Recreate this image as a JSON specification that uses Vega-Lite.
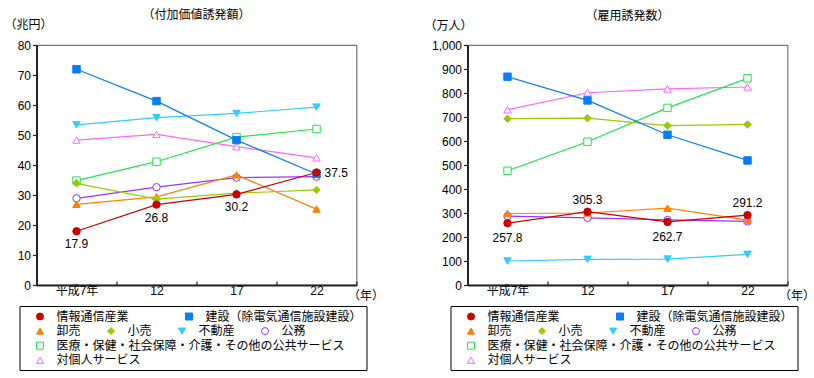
{
  "$schema": "https://vega.github.io/schema/vega-lite/v6.json",
  "padding": {"left": 2.5, "top": 8, "right": 0, "bottom": 0},
  "spacing": 111,
  "bounds": "flush",
  "resolve": {"scale": {"stroke": "independent", "fill": "independent", "shape": "independent"}},
  "datasets": {
    "va": [
      {"series": "建設（除電気通信施設建設）", "year": "平成7年", "value": 71.9},
      {"series": "建設（除電気通信施設建設）", "year": "12", "value": 61.3},
      {"series": "建設（除電気通信施設建設）", "year": "17", "value": 48.3},
      {"series": "建設（除電気通信施設建設）", "year": "22", "value": 37.0},
      {"series": "対個人サービス", "year": "平成7年", "value": 48.3},
      {"series": "対個人サービス", "year": "12", "value": 50.2},
      {"series": "対個人サービス", "year": "17", "value": 46.1},
      {"series": "対個人サービス", "year": "22", "value": 42.4},
      {"series": "不動産", "year": "平成7年", "value": 53.4},
      {"series": "不動産", "year": "12", "value": 55.8},
      {"series": "不動産", "year": "17", "value": 57.2},
      {"series": "不動産", "year": "22", "value": 59.3},
      {"series": "医療・保健・社会保障・介護・その他の公共サービス", "year": "平成7年", "value": 34.8},
      {"series": "医療・保健・社会保障・介護・その他の公共サービス", "year": "12", "value": 41.1},
      {"series": "医療・保健・社会保障・介護・その他の公共サービス", "year": "17", "value": 49.3},
      {"series": "医療・保健・社会保障・介護・その他の公共サービス", "year": "22", "value": 52.0},
      {"series": "公務", "year": "平成7年", "value": 28.9},
      {"series": "公務", "year": "12", "value": 32.6},
      {"series": "公務", "year": "17", "value": 35.8},
      {"series": "公務", "year": "22", "value": 36.1},
      {"series": "卸売", "year": "平成7年", "value": 26.9},
      {"series": "卸売", "year": "12", "value": 29.4},
      {"series": "卸売", "year": "17", "value": 36.7},
      {"series": "卸売", "year": "22", "value": 25.3},
      {"series": "小売", "year": "平成7年", "value": 33.9},
      {"series": "小売", "year": "12", "value": 28.6},
      {"series": "小売", "year": "17", "value": 30.6},
      {"series": "小売", "year": "22", "value": 31.7},
      {"series": "情報通信産業", "year": "平成7年", "value": 17.9},
      {"series": "情報通信産業", "year": "12", "value": 26.8},
      {"series": "情報通信産業", "year": "17", "value": 30.2},
      {"series": "情報通信産業", "year": "22", "value": 37.5}
    ],
    "emp": [
      {"series": "建設（除電気通信施設建設）", "year": "平成7年", "value": 868},
      {"series": "建設（除電気通信施設建設）", "year": "12", "value": 769},
      {"series": "建設（除電気通信施設建設）", "year": "17", "value": 626},
      {"series": "建設（除電気通信施設建設）", "year": "22", "value": 519},
      {"series": "対個人サービス", "year": "平成7年", "value": 730},
      {"series": "対個人サービス", "year": "12", "value": 801},
      {"series": "対個人サービス", "year": "17", "value": 817},
      {"series": "対個人サービス", "year": "22", "value": 825},
      {"series": "不動産", "year": "平成7年", "value": 100},
      {"series": "不動産", "year": "12", "value": 107},
      {"series": "不動産", "year": "17", "value": 108},
      {"series": "不動産", "year": "22", "value": 128},
      {"series": "医療・保健・社会保障・介護・その他の公共サービス", "year": "平成7年", "value": 476},
      {"series": "医療・保健・社会保障・介護・その他の公共サービス", "year": "12", "value": 597},
      {"series": "医療・保健・社会保障・介護・その他の公共サービス", "year": "17", "value": 738},
      {"series": "医療・保健・社会保障・介護・その他の公共サービス", "year": "22", "value": 861},
      {"series": "小売", "year": "平成7年", "value": 693},
      {"series": "小売", "year": "12", "value": 695},
      {"series": "小売", "year": "17", "value": 664},
      {"series": "小売", "year": "22", "value": 669},
      {"series": "公務", "year": "平成7年", "value": 287},
      {"series": "公務", "year": "12", "value": 280},
      {"series": "公務", "year": "17", "value": 271},
      {"series": "公務", "year": "22", "value": 265},
      {"series": "卸売", "year": "平成7年", "value": 298},
      {"series": "卸売", "year": "12", "value": 300},
      {"series": "卸売", "year": "17", "value": 320},
      {"series": "卸売", "year": "22", "value": 270},
      {"series": "情報通信産業", "year": "平成7年", "value": 257.8},
      {"series": "情報通信産業", "year": "12", "value": 305.3},
      {"series": "情報通信産業", "year": "17", "value": 262.7},
      {"series": "情報通信産業", "year": "22", "value": 291.2}
    ]
  },
  "hconcat": [
    {
      "width": 320,
      "height": 240,
      "title": {"text": "（付加価値誘発額）", "frame": "group", "anchor": "middle", "offset": -4},
      "data": {"name": "va"},
      "resolve": {"scale": {"stroke": "independent", "fill": "independent", "shape": "independent"}},
      "encoding": {
        "x": {"field": "year", "type": "ordinal", "sort": ["平成7年", "12", "17", "22"], "bandPosition": 0.5,
              "scale": {"type": "band", "paddingInner": 0, "paddingOuter": 0},
              "axis": {"title": "（年）", "titleX": 311, "titleY": 10, "titleAlign": "left", "titleBaseline": "middle", "titleAngle": 0, "labelAngle": 0, "tickBand": "extent", "tickSize": -4, "labelPadding": 4}},
        "y": {"field": "value", "type": "quantitative", "scale": {"domain": [0, 80], "nice": false},
              "axis": {"values": [0, 10, 20, 30, 40, 50, 60, 70, 80], "title": "（兆円）", "titleAngle": 0, "titleX": -32.5, "titleY": -21, "titleAlign": "left", "titleBaseline": "middle", "tickSize": 4, "labelPadding": 2}}
      },
      "layer": [
        {
          "transform": [{"filter": {"field": "series", "oneOf": ["対個人サービス"]}}],
          "layer": [
            {"mark": {"type": "line", "strokeWidth": 1.2},
             "encoding": {"stroke": {"field": "series", "type": "nominal", "scale": {"domain": ["対個人サービス"], "range": ["#ff66ff"]},
               "legend": {"title": null, "orient": "none", "legendX": -12.5, "legendY": 309.3, "padding": 0, "labelFontSize": 12, "labelColor": "#000", "labelLimit": 600, "symbolSize": 49, "symbolStrokeWidth": 1, "encode": {"symbols": {"update": {"x": {"value": 16}}}, "labels": {"update": {"x": {"value": 32.5}}}}}}}},
            {"mark": {"type": "point", "size": 55, "opacity": 1, "strokeWidth": 1},
             "encoding": {
               "stroke": {"field": "series", "type": "nominal", "legend": {"title": null, "orient": "none", "legendX": -12.5, "legendY": 309.3, "padding": 0, "labelFontSize": 12, "labelColor": "#000", "labelLimit": 600, "symbolSize": 49, "symbolStrokeWidth": 1, "encode": {"symbols": {"update": {"x": {"value": 16}}}, "labels": {"update": {"x": {"value": 32.5}}}}}},
               "fill": {"field": "series", "type": "nominal", "scale": {"domain": ["対個人サービス"], "range": ["#ffffff"]}, "legend": {"title": null, "orient": "none", "legendX": -12.5, "legendY": 309.3, "padding": 0, "labelFontSize": 12, "labelColor": "#000", "labelLimit": 600, "symbolSize": 49, "symbolStrokeWidth": 1, "encode": {"symbols": {"update": {"x": {"value": 16}}}, "labels": {"update": {"x": {"value": 32.5}}}}}},
               "shape": {"field": "series", "type": "nominal", "scale": {"domain": ["対個人サービス"], "range": ["triangle-up"]}, "legend": {"title": null, "orient": "none", "legendX": -12.5, "legendY": 309.3, "padding": 0, "labelFontSize": 12, "labelColor": "#000", "labelLimit": 600, "symbolSize": 49, "symbolStrokeWidth": 1, "encode": {"symbols": {"update": {"x": {"value": 16}}}, "labels": {"update": {"x": {"value": 32.5}}}}}}
             }}
          ]
        },
        {
          "transform": [{"filter": {"field": "series", "oneOf": ["医療・保健・社会保障・介護・その他の公共サービス"]}}],
          "layer": [
            {"mark": {"type": "line", "strokeWidth": 1.2},
             "encoding": {"stroke": {"field": "series", "type": "nominal", "scale": {"domain": ["医療・保健・社会保障・介護・その他の公共サービス"], "range": ["#22e64a"]},
               "legend": {"title": null, "orient": "none", "legendX": -12.5, "legendY": 294.7, "padding": 0, "labelFontSize": 12, "labelColor": "#000", "labelLimit": 600, "symbolSize": 49, "symbolStrokeWidth": 1, "encode": {"symbols": {"update": {"x": {"value": 16}}}, "labels": {"update": {"x": {"value": 32.5}}}}}}}},
            {"mark": {"type": "point", "size": 55, "opacity": 1, "strokeWidth": 1},
             "encoding": {
               "stroke": {"field": "series", "type": "nominal", "legend": {"title": null, "orient": "none", "legendX": -12.5, "legendY": 294.7, "padding": 0, "labelFontSize": 12, "labelColor": "#000", "labelLimit": 600, "symbolSize": 49, "symbolStrokeWidth": 1, "encode": {"symbols": {"update": {"x": {"value": 16}}}, "labels": {"update": {"x": {"value": 32.5}}}}}},
               "fill": {"field": "series", "type": "nominal", "scale": {"domain": ["医療・保健・社会保障・介護・その他の公共サービス"], "range": ["#ffffff"]}, "legend": {"title": null, "orient": "none", "legendX": -12.5, "legendY": 294.7, "padding": 0, "labelFontSize": 12, "labelColor": "#000", "labelLimit": 600, "symbolSize": 49, "symbolStrokeWidth": 1, "encode": {"symbols": {"update": {"x": {"value": 16}}}, "labels": {"update": {"x": {"value": 32.5}}}}}},
               "shape": {"field": "series", "type": "nominal", "scale": {"domain": ["医療・保健・社会保障・介護・その他の公共サービス"], "range": ["square"]}, "legend": {"title": null, "orient": "none", "legendX": -12.5, "legendY": 294.7, "padding": 0, "labelFontSize": 12, "labelColor": "#000", "labelLimit": 600, "symbolSize": 49, "symbolStrokeWidth": 1, "encode": {"symbols": {"update": {"x": {"value": 16}}}, "labels": {"update": {"x": {"value": 32.5}}}}}}
             }}
          ]
        },
        {
          "transform": [{"filter": {"field": "series", "oneOf": ["卸売", "小売", "不動産", "公務"]}}],
          "layer": [
            {"mark": {"type": "line", "strokeWidth": 1.2},
             "encoding": {"stroke": {"field": "series", "type": "nominal", "scale": {"domain": ["卸売", "小売", "不動産", "公務"], "range": ["#ff8000", "#99cc00", "#33ccff", "#9933ff"]},
               "legend": {"title": null, "orient": "none", "legendX": -12.5, "legendY": 280.1, "direction": "horizontal", "columns": 4, "columnPadding": 14, "padding": 0, "labelFontSize": 12, "labelColor": "#000", "labelLimit": 600, "symbolSize": 49, "symbolStrokeWidth": 1, "encode": {"symbols": {"update": {"x": {"value": 16}}}, "labels": {"update": {"x": {"value": 32.5}}}}}}}},
            {"mark": {"type": "point", "size": 55, "opacity": 1, "strokeWidth": 1},
             "encoding": {
               "stroke": {"field": "series", "type": "nominal", "legend": {"title": null, "orient": "none", "legendX": -12.5, "legendY": 280.1, "direction": "horizontal", "columns": 4, "columnPadding": 14, "padding": 0, "labelFontSize": 12, "labelColor": "#000", "labelLimit": 600, "symbolSize": 49, "symbolStrokeWidth": 1, "encode": {"symbols": {"update": {"x": {"value": 16}}}, "labels": {"update": {"x": {"value": 32.5}}}}}},
               "fill": {"field": "series", "type": "nominal", "scale": {"domain": ["卸売", "小売", "不動産", "公務"], "range": ["#ff8000", "#99cc00", "#33ccff", "#ffffff"]}, "legend": {"title": null, "orient": "none", "legendX": -12.5, "legendY": 280.1, "direction": "horizontal", "columns": 4, "columnPadding": 14, "padding": 0, "labelFontSize": 12, "labelColor": "#000", "labelLimit": 600, "symbolSize": 49, "symbolStrokeWidth": 1, "encode": {"symbols": {"update": {"x": {"value": 16}}}, "labels": {"update": {"x": {"value": 32.5}}}}}},
               "shape": {"field": "series", "type": "nominal", "scale": {"domain": ["卸売", "小売", "不動産", "公務"], "range": ["triangle-up", "diamond", "triangle-down", "circle"]}, "legend": {"title": null, "orient": "none", "legendX": -12.5, "legendY": 280.1, "direction": "horizontal", "columns": 4, "columnPadding": 14, "padding": 0, "labelFontSize": 12, "labelColor": "#000", "labelLimit": 600, "symbolSize": 49, "symbolStrokeWidth": 1, "encode": {"symbols": {"update": {"x": {"value": 16}}}, "labels": {"update": {"x": {"value": 32.5}}}}}}
             }}
          ]
        },
        {
          "transform": [{"filter": {"field": "series", "oneOf": ["建設（除電気通信施設建設）", "情報通信産業"]}}],
          "layer": [
            {"mark": {"type": "line", "strokeWidth": 1.2},
             "encoding": {"stroke": {"field": "series", "type": "nominal", "scale": {"domain": ["情報通信産業", "建設（除電気通信施設建設）"], "range": ["#cc0000", "#0a7df5"]},
               "legend": {"title": ["\u3000", "\u3000", "\u3000"], "titleOrient": "bottom", "titleLineHeight": 14.6, "titlePadding": 2.6, "titleFontSize": 12, "orient": "none", "legendX": -17, "legendY": 261, "direction": "horizontal", "columns": 2, "columnPadding": 44, "padding": 4.5, "strokeColor": "#000", "labelFontSize": 12, "labelColor": "#000", "labelLimit": 600, "symbolSize": 49, "symbolStrokeWidth": 1, "encode": {"symbols": {"update": {"x": {"value": 16}}}, "labels": {"update": {"x": {"value": 32.5}}}}}}}},
            {"mark": {"type": "point", "size": 55, "opacity": 1, "strokeWidth": 1},
             "encoding": {
               "stroke": {"field": "series", "type": "nominal", "legend": {"title": ["\u3000", "\u3000", "\u3000"], "titleOrient": "bottom", "titleLineHeight": 14.6, "titlePadding": 2.6, "titleFontSize": 12, "orient": "none", "legendX": -17, "legendY": 261, "direction": "horizontal", "columns": 2, "columnPadding": 44, "padding": 4.5, "strokeColor": "#000", "labelFontSize": 12, "labelColor": "#000", "labelLimit": 600, "symbolSize": 49, "symbolStrokeWidth": 1, "encode": {"symbols": {"update": {"x": {"value": 16}}}, "labels": {"update": {"x": {"value": 32.5}}}}}},
               "fill": {"field": "series", "type": "nominal", "scale": {"domain": ["情報通信産業", "建設（除電気通信施設建設）"], "range": ["#cc0000", "#0a7df5"]}, "legend": {"title": ["\u3000", "\u3000", "\u3000"], "titleOrient": "bottom", "titleLineHeight": 14.6, "titlePadding": 2.6, "titleFontSize": 12, "orient": "none", "legendX": -17, "legendY": 261, "direction": "horizontal", "columns": 2, "columnPadding": 44, "padding": 4.5, "strokeColor": "#000", "labelFontSize": 12, "labelColor": "#000", "labelLimit": 600, "symbolSize": 49, "symbolStrokeWidth": 1, "encode": {"symbols": {"update": {"x": {"value": 16}}}, "labels": {"update": {"x": {"value": 32.5}}}}}},
               "shape": {"field": "series", "type": "nominal", "scale": {"domain": ["情報通信産業", "建設（除電気通信施設建設）"], "range": ["circle", "square"]}, "legend": {"title": ["\u3000", "\u3000", "\u3000"], "titleOrient": "bottom", "titleLineHeight": 14.6, "titlePadding": 2.6, "titleFontSize": 12, "orient": "none", "legendX": -17, "legendY": 261, "direction": "horizontal", "columns": 2, "columnPadding": 44, "padding": 4.5, "strokeColor": "#000", "labelFontSize": 12, "labelColor": "#000", "labelLimit": 600, "symbolSize": 49, "symbolStrokeWidth": 1, "encode": {"symbols": {"update": {"x": {"value": 16}}}, "labels": {"update": {"x": {"value": 32.5}}}}}}
             }}
          ]
        },
        {
          "transform": [{"filter": "datum.series === '情報通信産業' && datum.year !== '22'"}],
          "mark": {"type": "text", "dy": 13, "fontSize": 12, "color": "#000"},
          "encoding": {"text": {"field": "value", "type": "quantitative", "format": ".1f"}}
        },
        {
          "transform": [{"filter": "datum.series === '情報通信産業' && datum.year === '22'"}],
          "mark": {"type": "text", "dx": 8, "align": "left", "fontSize": 12, "color": "#000"},
          "encoding": {"text": {"field": "value", "type": "quantitative", "format": ".1f"}}
        }
      ]
    },
    {
      "width": 320,
      "height": 240,
      "title": {"text": "（雇用誘発数）", "frame": "group", "anchor": "middle", "offset": -4},
      "data": {"name": "emp"},
      "resolve": {"scale": {"stroke": "independent", "fill": "independent", "shape": "independent"}},
      "encoding": {
        "x": {"field": "year", "type": "ordinal", "sort": ["平成7年", "12", "17", "22"], "bandPosition": 0.5,
              "scale": {"type": "band", "paddingInner": 0, "paddingOuter": 0},
              "axis": {"title": "（年）", "titleX": 311, "titleY": 10, "titleAlign": "left", "titleBaseline": "middle", "titleAngle": 0, "labelAngle": 0, "tickBand": "extent", "tickSize": -4, "labelPadding": 4}},
        "y": {"field": "value", "type": "quantitative", "scale": {"domain": [0, 1000], "nice": false},
              "axis": {"values": [0, 100, 200, 300, 400, 500, 600, 700, 800, 900, 1000], "format": ",d", "title": "（万人）", "titleAngle": 0, "titleX": -43.5, "titleY": -20, "titleAlign": "left", "titleBaseline": "middle", "tickSize": 4, "labelPadding": 2}}
      },
      "layer": [
        {
          "transform": [{"filter": {"field": "series", "oneOf": ["対個人サービス"]}}],
          "layer": [
            {"mark": {"type": "line", "strokeWidth": 1.2},
             "encoding": {"stroke": {"field": "series", "type": "nominal", "scale": {"domain": ["対個人サービス"], "range": ["#ff66ff"]},
               "legend": {"title": null, "orient": "none", "legendX": -12.5, "legendY": 309.3, "padding": 0, "labelFontSize": 12, "labelColor": "#000", "labelLimit": 600, "symbolSize": 49, "symbolStrokeWidth": 1, "encode": {"symbols": {"update": {"x": {"value": 16}}}, "labels": {"update": {"x": {"value": 32.5}}}}}}}},
            {"mark": {"type": "point", "size": 55, "opacity": 1, "strokeWidth": 1},
             "encoding": {
               "stroke": {"field": "series", "type": "nominal", "legend": {"title": null, "orient": "none", "legendX": -12.5, "legendY": 309.3, "padding": 0, "labelFontSize": 12, "labelColor": "#000", "labelLimit": 600, "symbolSize": 49, "symbolStrokeWidth": 1, "encode": {"symbols": {"update": {"x": {"value": 16}}}, "labels": {"update": {"x": {"value": 32.5}}}}}},
               "fill": {"field": "series", "type": "nominal", "scale": {"domain": ["対個人サービス"], "range": ["#ffffff"]}, "legend": {"title": null, "orient": "none", "legendX": -12.5, "legendY": 309.3, "padding": 0, "labelFontSize": 12, "labelColor": "#000", "labelLimit": 600, "symbolSize": 49, "symbolStrokeWidth": 1, "encode": {"symbols": {"update": {"x": {"value": 16}}}, "labels": {"update": {"x": {"value": 32.5}}}}}},
               "shape": {"field": "series", "type": "nominal", "scale": {"domain": ["対個人サービス"], "range": ["triangle-up"]}, "legend": {"title": null, "orient": "none", "legendX": -12.5, "legendY": 309.3, "padding": 0, "labelFontSize": 12, "labelColor": "#000", "labelLimit": 600, "symbolSize": 49, "symbolStrokeWidth": 1, "encode": {"symbols": {"update": {"x": {"value": 16}}}, "labels": {"update": {"x": {"value": 32.5}}}}}}
             }}
          ]
        },
        {
          "transform": [{"filter": {"field": "series", "oneOf": ["医療・保健・社会保障・介護・その他の公共サービス"]}}],
          "layer": [
            {"mark": {"type": "line", "strokeWidth": 1.2},
             "encoding": {"stroke": {"field": "series", "type": "nominal", "scale": {"domain": ["医療・保健・社会保障・介護・その他の公共サービス"], "range": ["#22e64a"]},
               "legend": {"title": null, "orient": "none", "legendX": -12.5, "legendY": 294.7, "padding": 0, "labelFontSize": 12, "labelColor": "#000", "labelLimit": 600, "symbolSize": 49, "symbolStrokeWidth": 1, "encode": {"symbols": {"update": {"x": {"value": 16}}}, "labels": {"update": {"x": {"value": 32.5}}}}}}}},
            {"mark": {"type": "point", "size": 55, "opacity": 1, "strokeWidth": 1},
             "encoding": {
               "stroke": {"field": "series", "type": "nominal", "legend": {"title": null, "orient": "none", "legendX": -12.5, "legendY": 294.7, "padding": 0, "labelFontSize": 12, "labelColor": "#000", "labelLimit": 600, "symbolSize": 49, "symbolStrokeWidth": 1, "encode": {"symbols": {"update": {"x": {"value": 16}}}, "labels": {"update": {"x": {"value": 32.5}}}}}},
               "fill": {"field": "series", "type": "nominal", "scale": {"domain": ["医療・保健・社会保障・介護・その他の公共サービス"], "range": ["#ffffff"]}, "legend": {"title": null, "orient": "none", "legendX": -12.5, "legendY": 294.7, "padding": 0, "labelFontSize": 12, "labelColor": "#000", "labelLimit": 600, "symbolSize": 49, "symbolStrokeWidth": 1, "encode": {"symbols": {"update": {"x": {"value": 16}}}, "labels": {"update": {"x": {"value": 32.5}}}}}},
               "shape": {"field": "series", "type": "nominal", "scale": {"domain": ["医療・保健・社会保障・介護・その他の公共サービス"], "range": ["square"]}, "legend": {"title": null, "orient": "none", "legendX": -12.5, "legendY": 294.7, "padding": 0, "labelFontSize": 12, "labelColor": "#000", "labelLimit": 600, "symbolSize": 49, "symbolStrokeWidth": 1, "encode": {"symbols": {"update": {"x": {"value": 16}}}, "labels": {"update": {"x": {"value": 32.5}}}}}}
             }}
          ]
        },
        {
          "transform": [{"filter": {"field": "series", "oneOf": ["卸売", "小売", "不動産", "公務"]}}],
          "layer": [
            {"mark": {"type": "line", "strokeWidth": 1.2},
             "encoding": {"stroke": {"field": "series", "type": "nominal", "scale": {"domain": ["卸売", "小売", "不動産", "公務"], "range": ["#ff8000", "#99cc00", "#33ccff", "#9933ff"]},
               "legend": {"title": null, "orient": "none", "legendX": -12.5, "legendY": 280.1, "direction": "horizontal", "columns": 4, "columnPadding": 14, "padding": 0, "labelFontSize": 12, "labelColor": "#000", "labelLimit": 600, "symbolSize": 49, "symbolStrokeWidth": 1, "encode": {"symbols": {"update": {"x": {"value": 16}}}, "labels": {"update": {"x": {"value": 32.5}}}}}}}},
            {"mark": {"type": "point", "size": 55, "opacity": 1, "strokeWidth": 1},
             "encoding": {
               "stroke": {"field": "series", "type": "nominal", "legend": {"title": null, "orient": "none", "legendX": -12.5, "legendY": 280.1, "direction": "horizontal", "columns": 4, "columnPadding": 14, "padding": 0, "labelFontSize": 12, "labelColor": "#000", "labelLimit": 600, "symbolSize": 49, "symbolStrokeWidth": 1, "encode": {"symbols": {"update": {"x": {"value": 16}}}, "labels": {"update": {"x": {"value": 32.5}}}}}},
               "fill": {"field": "series", "type": "nominal", "scale": {"domain": ["卸売", "小売", "不動産", "公務"], "range": ["#ff8000", "#99cc00", "#33ccff", "#ffffff"]}, "legend": {"title": null, "orient": "none", "legendX": -12.5, "legendY": 280.1, "direction": "horizontal", "columns": 4, "columnPadding": 14, "padding": 0, "labelFontSize": 12, "labelColor": "#000", "labelLimit": 600, "symbolSize": 49, "symbolStrokeWidth": 1, "encode": {"symbols": {"update": {"x": {"value": 16}}}, "labels": {"update": {"x": {"value": 32.5}}}}}},
               "shape": {"field": "series", "type": "nominal", "scale": {"domain": ["卸売", "小売", "不動産", "公務"], "range": ["triangle-up", "diamond", "triangle-down", "circle"]}, "legend": {"title": null, "orient": "none", "legendX": -12.5, "legendY": 280.1, "direction": "horizontal", "columns": 4, "columnPadding": 14, "padding": 0, "labelFontSize": 12, "labelColor": "#000", "labelLimit": 600, "symbolSize": 49, "symbolStrokeWidth": 1, "encode": {"symbols": {"update": {"x": {"value": 16}}}, "labels": {"update": {"x": {"value": 32.5}}}}}}
             }}
          ]
        },
        {
          "transform": [{"filter": {"field": "series", "oneOf": ["建設（除電気通信施設建設）", "情報通信産業"]}}],
          "layer": [
            {"mark": {"type": "line", "strokeWidth": 1.2},
             "encoding": {"stroke": {"field": "series", "type": "nominal", "scale": {"domain": ["情報通信産業", "建設（除電気通信施設建設）"], "range": ["#cc0000", "#0a7df5"]},
               "legend": {"title": ["\u3000", "\u3000", "\u3000"], "titleOrient": "bottom", "titleLineHeight": 14.6, "titlePadding": 2.6, "titleFontSize": 12, "orient": "none", "legendX": -17, "legendY": 261, "direction": "horizontal", "columns": 2, "columnPadding": 44, "padding": 4.5, "strokeColor": "#000", "labelFontSize": 12, "labelColor": "#000", "labelLimit": 600, "symbolSize": 49, "symbolStrokeWidth": 1, "encode": {"symbols": {"update": {"x": {"value": 16}}}, "labels": {"update": {"x": {"value": 32.5}}}}}}}},
            {"mark": {"type": "point", "size": 55, "opacity": 1, "strokeWidth": 1},
             "encoding": {
               "stroke": {"field": "series", "type": "nominal", "legend": {"title": ["\u3000", "\u3000", "\u3000"], "titleOrient": "bottom", "titleLineHeight": 14.6, "titlePadding": 2.6, "titleFontSize": 12, "orient": "none", "legendX": -17, "legendY": 261, "direction": "horizontal", "columns": 2, "columnPadding": 44, "padding": 4.5, "strokeColor": "#000", "labelFontSize": 12, "labelColor": "#000", "labelLimit": 600, "symbolSize": 49, "symbolStrokeWidth": 1, "encode": {"symbols": {"update": {"x": {"value": 16}}}, "labels": {"update": {"x": {"value": 32.5}}}}}},
               "fill": {"field": "series", "type": "nominal", "scale": {"domain": ["情報通信産業", "建設（除電気通信施設建設）"], "range": ["#cc0000", "#0a7df5"]}, "legend": {"title": ["\u3000", "\u3000", "\u3000"], "titleOrient": "bottom", "titleLineHeight": 14.6, "titlePadding": 2.6, "titleFontSize": 12, "orient": "none", "legendX": -17, "legendY": 261, "direction": "horizontal", "columns": 2, "columnPadding": 44, "padding": 4.5, "strokeColor": "#000", "labelFontSize": 12, "labelColor": "#000", "labelLimit": 600, "symbolSize": 49, "symbolStrokeWidth": 1, "encode": {"symbols": {"update": {"x": {"value": 16}}}, "labels": {"update": {"x": {"value": 32.5}}}}}},
               "shape": {"field": "series", "type": "nominal", "scale": {"domain": ["情報通信産業", "建設（除電気通信施設建設）"], "range": ["circle", "square"]}, "legend": {"title": ["\u3000", "\u3000", "\u3000"], "titleOrient": "bottom", "titleLineHeight": 14.6, "titlePadding": 2.6, "titleFontSize": 12, "orient": "none", "legendX": -17, "legendY": 261, "direction": "horizontal", "columns": 2, "columnPadding": 44, "padding": 4.5, "strokeColor": "#000", "labelFontSize": 12, "labelColor": "#000", "labelLimit": 600, "symbolSize": 49, "symbolStrokeWidth": 1, "encode": {"symbols": {"update": {"x": {"value": 16}}}, "labels": {"update": {"x": {"value": 32.5}}}}}}
             }}
          ]
        },
        {
          "transform": [{"filter": "datum.series === '情報通信産業' && (datum.year === '平成7年' || datum.year === '17')"}],
          "mark": {"type": "text", "dy": 15, "fontSize": 12, "color": "#000"},
          "encoding": {"text": {"field": "value", "type": "quantitative", "format": ".1f"}}
        },
        {
          "transform": [{"filter": "datum.series === '情報通信産業' && (datum.year === '12' || datum.year === '22')"}],
          "mark": {"type": "text", "dy": -12, "fontSize": 12, "color": "#000"},
          "encoding": {"text": {"field": "value", "type": "quantitative", "format": ".1f"}}
        }
      ]
    }
  ],
  "config": {
    "font": "'Liberation Sans', 'Noto Sans CJK JP', sans-serif",
    "view": {"stroke": "#777777", "strokeWidth": 1.2},
    "axis": {"domainColor": "#222", "domainWidth": 2, "tickColor": "#222", "tickWidth": 1.2, "labelColor": "#000", "labelFontSize": 12, "titleFontSize": 12, "titleFontWeight": "normal", "titleColor": "#000", "grid": false},
    "title": {"fontSize": 12, "fontWeight": "normal", "color": "#000"}
  }
}
